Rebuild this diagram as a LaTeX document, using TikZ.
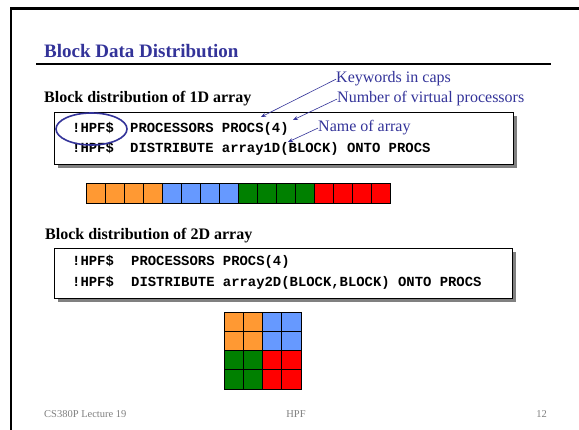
\documentclass[tikz,border=0pt]{standalone}
\usepackage{fontspec}
\setmainfont{Liberation Serif}
\setmonofont{Liberation Mono}
\usetikzlibrary{arrows.meta,shapes.geometric}
\definecolor{slideblue}{RGB}{51,51,153}
\definecolor{blkorange}{RGB}{255,153,51}
\definecolor{blkblue}{RGB}{102,153,255}
\definecolor{blkgreen}{RGB}{0,128,0}
\definecolor{blkred}{RGB}{255,0,0}
\definecolor{footgray}{RGB}{128,128,128}
\definecolor{shadowgray}{RGB}{128,128,128}

\begin{document}
\begin{tikzpicture}[x=1pt,y=-1pt]
    \tikzset{line/.style={draw,line width=0.8pt}}
    \tikzset{arrow/.style={draw=slideblue,line width=0.6pt,-{Stealth[length=5pt,width=4pt]}}}
    \tikzset{cell/.style={line,rectangle,inner sep=0pt,minimum width=19pt,minimum height=20pt}}
    \tikzset{sqcell/.style={line,rectangle,inner sep=0pt,minimum width=19.25pt,minimum height=19.25pt}}
    \tikzset{code/.style={anchor=base west,inner sep=0pt,font=\fontsize{13.9}{16}\ttfamily\bfseries}}
    \tikzset{note/.style={anchor=base west,inner sep=0pt,text=slideblue,font=\fontsize{16}{19}\selectfont}}
    \tikzset{heading/.style={anchor=base west,inner sep=0pt,font=\fontsize{16}{19}\selectfont\bfseries}}
    \tikzset{foot/.style={anchor=base,inner sep=0pt,text=footgray,font=\fontsize{10.5}{12}\selectfont}}

    \useasboundingbox (0,0) rectangle (579,430);
    \fill[white] (0,0) rectangle (579,430);

    % slide frame and title
    \draw[line width=2.5pt] (11,430) -- (11,8.5) -- (579,8.5);
    \node[anchor=base west,inner sep=0pt,text=slideblue,font=\fontsize{19}{22}\selectfont\bfseries] (title) at (44,58) {Block Data Distribution};
    \draw[line width=1.8pt] (36,64) -- (551,64);

    % 1D array
    \node[heading] (head1) at (44,103) {Block distribution of 1D array};
    \fill[shadowgray] (58,116) rectangle (517,168);
    \draw[line,fill=white] (54,112) rectangle (513,164);
    \node[code] (hpf1) at (72,133) {!HPF\$};
    \node[code] (proc1) at (130,133) {PROCESSORS PROCS(4)};
    \node[code] (hpf2) at (72,153) {!HPF\$};
    \node[code] (dist1) at (130,153) {DISTRIBUTE array1D(BLOCK) ONTO PROCS};
    \node[draw=slideblue,line width=1.6pt,ellipse,minimum width=71pt,minimum height=32pt] (ring) at (91.5,129) {};

    \node[note] (kw) at (336,83) {Keywords in caps};
    \node[note] (nvp) at (337,103) {Number of virtual processors};
    \node[note] (nm) at (318,132) {Name of array};
    \coordinate (tipkw) at (261,117);
    \coordinate (tipnvp) at (293,120);
    \coordinate (tipnm) at (288,142);
    \draw[arrow] (kw.west) -- (tipkw);
    \draw[arrow] (nvp.west) -- (tipnvp);
    \draw[arrow] (nm.west) -- (tipnm);

    \foreach \c [count=\k from 0] in {blkorange,blkblue,blkgreen,blkred}
        \foreach \j in {0,...,3}
            \node[cell,fill=\c] (a\k\j) at ({86+19*(4*\k+\j)+9.5},193) {};

    % 2D array
    \node[heading] (head2) at (45,240) {Block distribution of 2D array};
    \fill[shadowgray] (58,252) rectangle (516,302);
    \draw[line,fill=white] (54,248) rectangle (512,298);
    \node[code] (hpf3) at (72,266) {!HPF\$};
    \node[code] (proc2) at (131,266) {PROCESSORS PROCS(4)};
    \node[code] (hpf4) at (72,287) {!HPF\$};
    \node[code] (dist2) at (131,287) {DISTRIBUTE array2D(BLOCK,BLOCK) ONTO PROCS};

    \foreach \c/\bx/\by in {blkorange/0/0,blkblue/1/0,blkgreen/0/1,blkred/1/1}
        \foreach \r in {0,1}
            \foreach \s in {0,1}
                \node[sqcell,fill=\c] (g\bx\by\r\s) at ({224+(2*\bx+\s+0.5)*19.25},{312+(2*\by+\r+0.5)*19.25}) {};

    % footer
    \node[foot,anchor=base west] (lect) at (44,418) {CS380P Lecture 19};
    \node[foot] (topic) at (296,418) {HPF};
    \node[foot,anchor=base east] (page) at (547,418) {12};
\end{tikzpicture}
\end{document}
